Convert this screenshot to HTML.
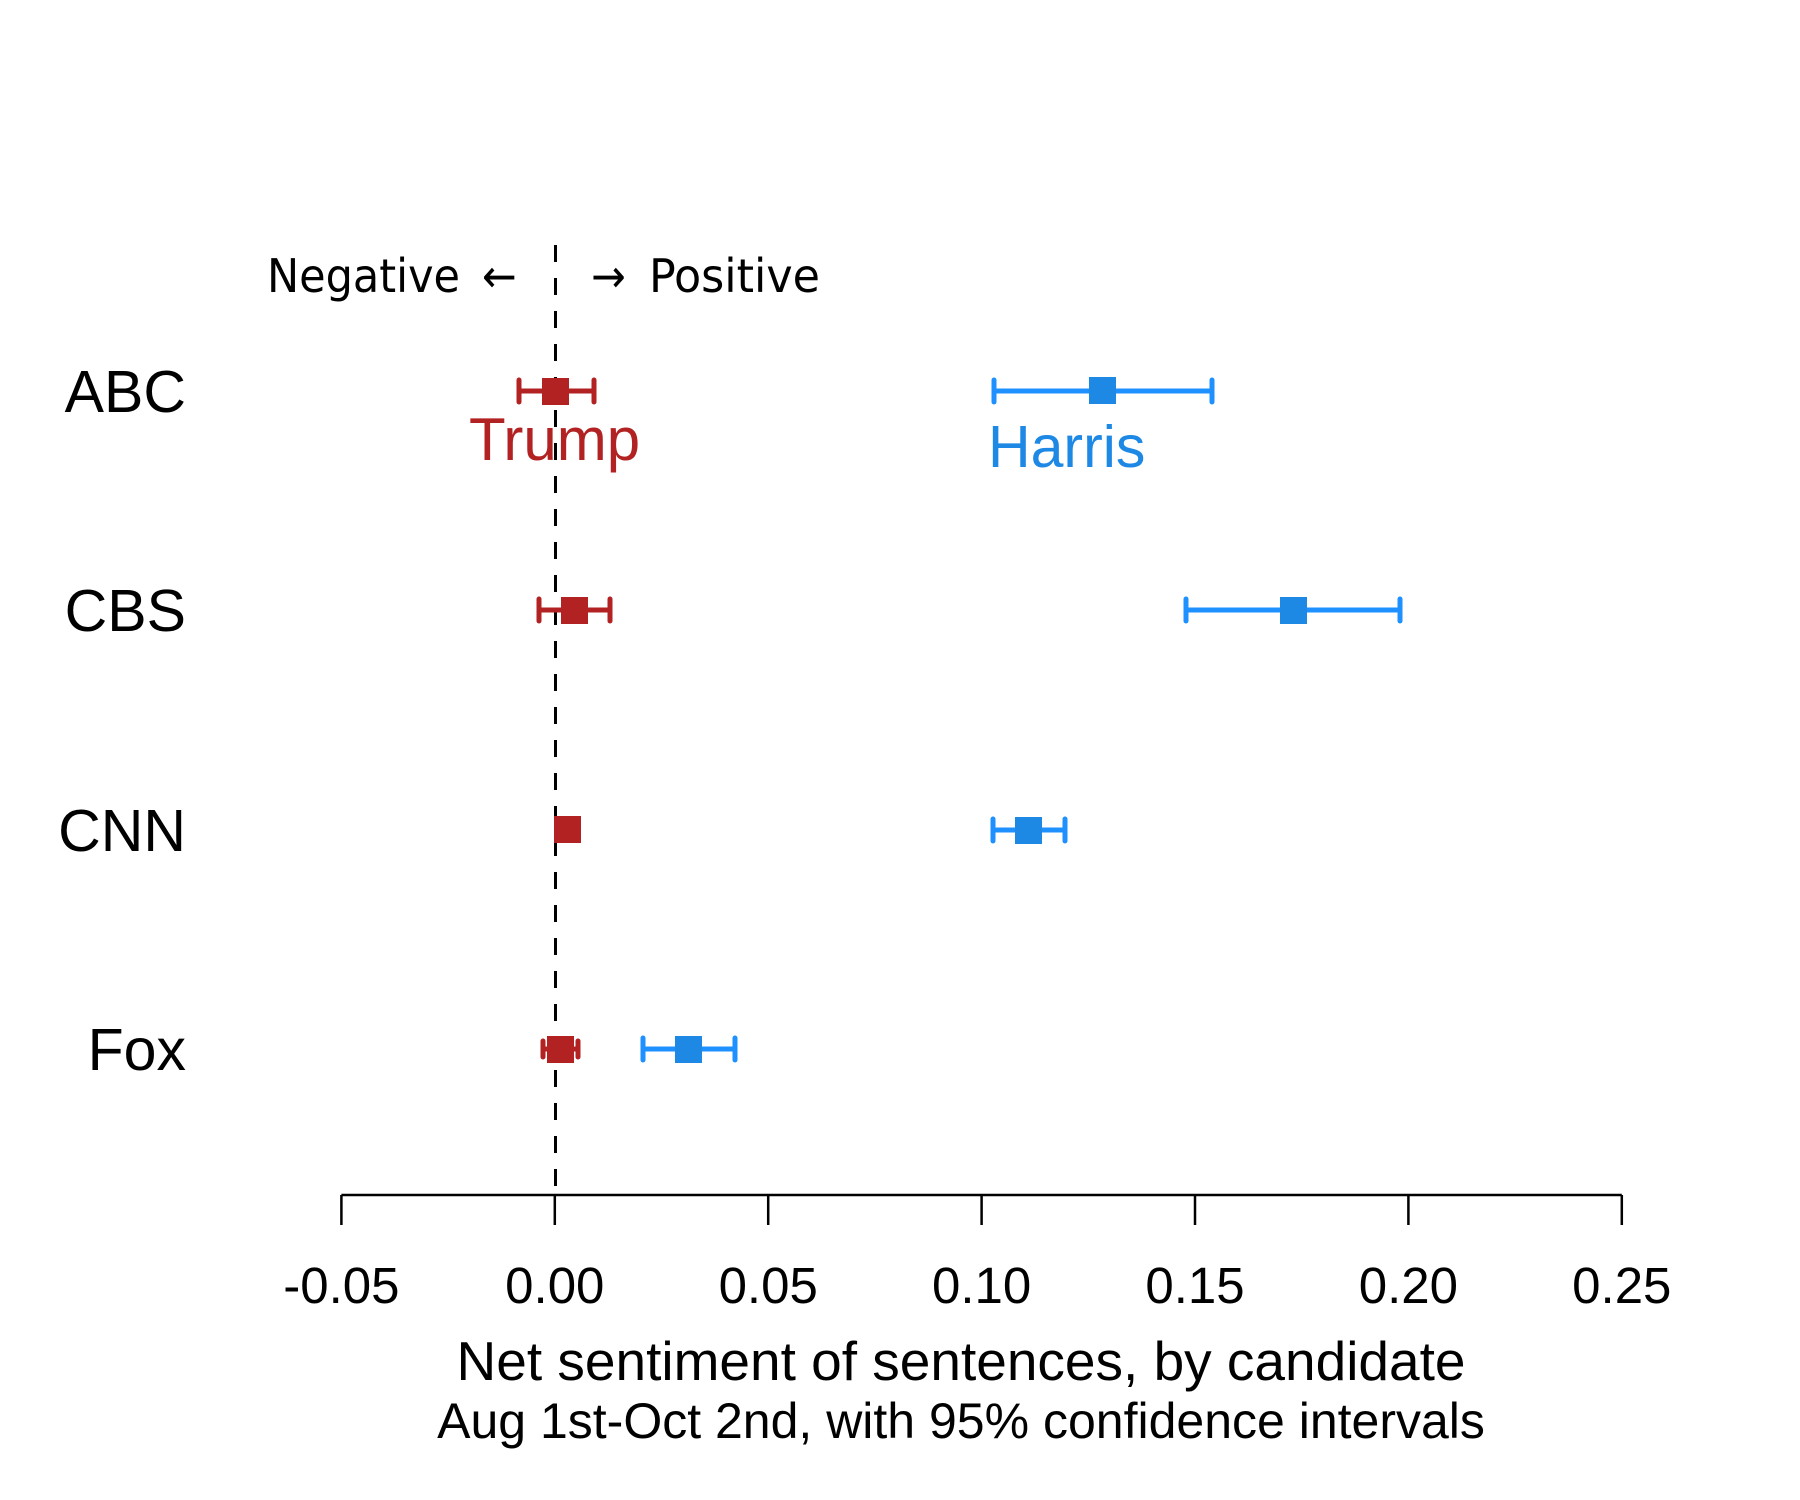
<!DOCTYPE html>
<html><head><meta charset="utf-8"><style>html,body{margin:0;padding:0;background:#fff}svg{display:block}</style></head>
<body>
<svg width="1800" height="1500" viewBox="0 0 1800 1500" xmlns="http://www.w3.org/2000/svg">
<rect width="1800" height="1500" fill="#fff"/>
<line x1="555.5" y1="245" x2="555.5" y2="1195" stroke="#000" stroke-width="3" stroke-dasharray="17,16"/>
<g font-family="DejaVu Sans Condensed, DejaVu Sans, sans-serif" font-size="46" fill="#000">
<text x="267" y="292" textLength="193" lengthAdjust="spacingAndGlyphs">Negative</text>
<text x="482" y="292">←</text>
<text x="591" y="292">→</text>
<text x="649" y="292" textLength="171" lengthAdjust="spacingAndGlyphs">Positive</text>
</g>
<g font-family="Liberation Sans, Arial, sans-serif" font-size="59" fill="#000" text-anchor="end">
<text x="186" y="412">ABC</text>
<text x="186" y="631">CBS</text>
<text x="186" y="851">CNN</text>
<text x="186" y="1070">Fox</text>
</g>
<g stroke="#B22222" stroke-width="5" stroke-linecap="round" fill="#B22222">
<line x1="519" y1="391" x2="594" y2="391"/><line x1="519" y1="380" x2="519" y2="402"/><line x1="594" y1="380" x2="594" y2="402"/>
<rect x="542" y="378" width="27" height="27" stroke="none"/>
<line x1="539" y1="610" x2="610" y2="610"/><line x1="539" y1="599" x2="539" y2="621"/><line x1="610" y1="599" x2="610" y2="621"/>
<rect x="561" y="597" width="27" height="27" stroke="none"/>
<rect x="554" y="816" width="27" height="27" stroke="none"/>
<line x1="543" y1="1041" x2="543" y2="1057"/><line x1="578" y1="1041" x2="578" y2="1057"/><line x1="543" y1="1049" x2="578" y2="1049"/>
<rect x="547" y="1036" width="27" height="27" stroke="none"/>
</g>
<g stroke="#1E90FF" stroke-width="5" stroke-linecap="round" fill="#1E88E5">
<line x1="994" y1="391" x2="1212" y2="391"/><line x1="994" y1="380" x2="994" y2="402"/><line x1="1212" y1="380" x2="1212" y2="402"/>
<rect x="1089" y="377" width="27" height="27" stroke="none"/>
<line x1="1186" y1="610" x2="1400" y2="610"/><line x1="1186" y1="599" x2="1186" y2="621"/><line x1="1400" y1="599" x2="1400" y2="621"/>
<rect x="1280" y="597" width="27" height="27" stroke="none"/>
<line x1="993" y1="830" x2="1065" y2="830"/><line x1="993" y1="819" x2="993" y2="841"/><line x1="1065" y1="819" x2="1065" y2="841"/>
<rect x="1015" y="817" width="27" height="27" stroke="none"/>
<line x1="643" y1="1049" x2="735" y2="1049"/><line x1="643" y1="1038" x2="643" y2="1060"/><line x1="735" y1="1038" x2="735" y2="1060"/>
<rect x="675" y="1036" width="27" height="27" stroke="none"/>
</g>
<text x="469" y="460" font-family="Liberation Sans, Arial, sans-serif" font-size="60" fill="#B22222">Trump</text>
<text x="988" y="467" font-family="Liberation Sans, Arial, sans-serif" font-size="59" fill="#1E88E5">Harris</text>
<g stroke="#000" stroke-width="2.5" fill="none">
<line x1="341.4" y1="1195" x2="1621.8" y2="1195"/>
<line x1="341.4" y1="1195" x2="341.4" y2="1225"/>
<line x1="554.8" y1="1195" x2="554.8" y2="1225"/>
<line x1="768.2" y1="1195" x2="768.2" y2="1225"/>
<line x1="981.6" y1="1195" x2="981.6" y2="1225"/>
<line x1="1195" y1="1195" x2="1195" y2="1225"/>
<line x1="1408.4" y1="1195" x2="1408.4" y2="1225"/>
<line x1="1621.8" y1="1195" x2="1621.8" y2="1225"/>
</g>
<g font-family="Liberation Sans, Arial, sans-serif" font-size="51" fill="#000" text-anchor="middle">
<text x="341.4" y="1303">-0.05</text>
<text x="554.8" y="1303">0.00</text>
<text x="768.2" y="1303">0.05</text>
<text x="981.6" y="1303">0.10</text>
<text x="1195" y="1303">0.15</text>
<text x="1408.4" y="1303">0.20</text>
<text x="1621.8" y="1303">0.25</text>
<text x="961" y="1380" font-size="55">Net sentiment of sentences, by candidate</text>
<text x="961" y="1438" font-size="50">Aug 1st-Oct 2nd, with 95% confidence intervals</text>
</g>
</svg>
</body></html>
